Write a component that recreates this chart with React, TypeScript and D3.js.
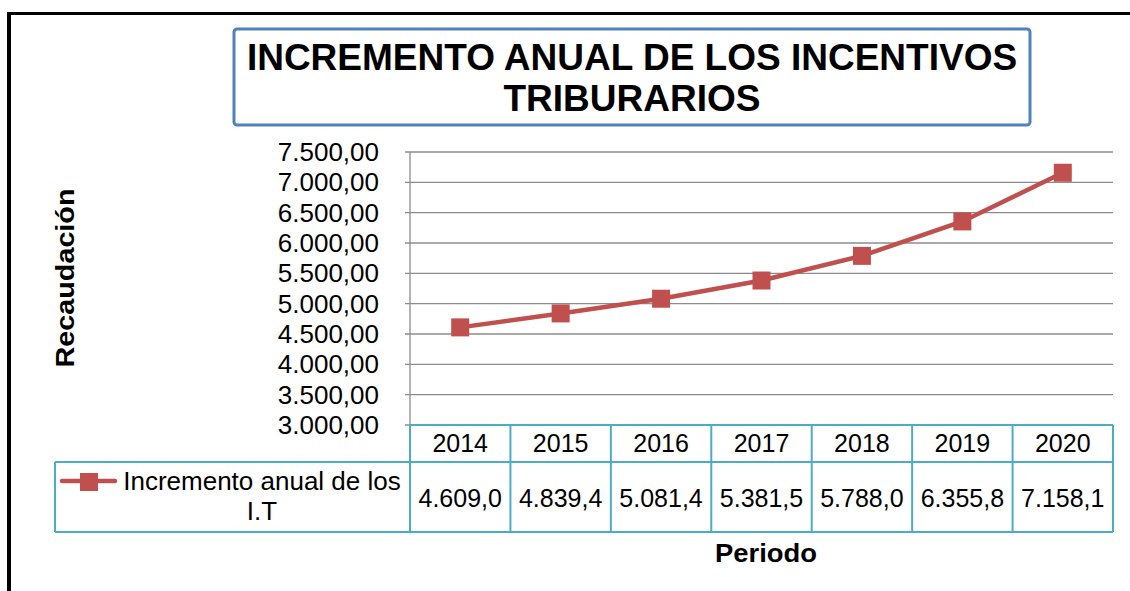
import React from "react";
import * as d3 from "d3";

const years = ["2014", "2015", "2016", "2017", "2018", "2019", "2020"];
const values = [4609.0, 4839.4, 5081.4, 5381.5, 5788.0, 6355.8, 7158.1];
const valueLabels = ["4.609,0", "4.839,4", "5.081,4", "5.381,5", "5.788,0", "6.355,8", "7.158,1"];
const yTicks = [3000, 3500, 4000, 4500, 5000, 5500, 6000, 6500, 7000, 7500];
const seriesName = ["Incremento anual de los", "I.T"];
const titleLines = ["INCREMENTO ANUAL DE LOS INCENTIVOS", "TRIBURARIOS"];

const W = 1130, H = 591;
const plotL = 410, plotR = 1113, plotT = 152, plotB = 425;
const rowHeadB = 462, rowDataB = 532;
const legendL = 55;
const font = "Arial, 'Liberation Sans', sans-serif";
const red = "#C0504D";
const teal = "#4BACC6";

export default function App() {
  const x = d3.scaleBand<string>().domain(years).range([plotL, plotR]);
  const y = d3.scaleLinear().domain([3000, 7500]).range([plotB, plotT]);
  const fmt = (v: number) => d3.format(",.2f")(v).replace(/,/g, "#").replace(/\./g, ",").replace(/#/g, ".");
  const line = d3.line<number>()
    .x((_, i) => (x(years[i]) as number) + x.bandwidth() / 2)
    .y((d) => y(d));
  const ms = 18;
  return (
    <svg width={W} height={H} style={{ position: "absolute", left: 0, top: 0, background: "#fff" }} fontFamily={font}>
      <rect x={0} y={0} width={W} height={H} fill="#fff" />
      {/* outer border */}
      <line x1={9} y1={12} x2={9} y2={H} stroke="#000" strokeWidth={4} />
      <line x1={7} y1={13.5} x2={W} y2={13.5} stroke="#000" strokeWidth={3} />
      {/* title */}
      <rect x={234} y={29} width={796} height={96} rx={3} fill="#fff" stroke="#4F81BD" strokeWidth={3} />
      {titleLines.map((t, i) => (
        <text key={i} x={632} y={70 + i * 41} textAnchor="middle" fontSize={37} fontWeight="bold" fill="#000">{t}</text>
      ))}
      {/* gridlines */}
      {yTicks.map((t) => (
        <g key={t}>
          <line x1={plotL - 5} x2={plotR} y1={y(t)} y2={y(t)} stroke="#8C8C8C" strokeWidth={1.3} />
          <text x={379} y={y(t) + 9} textAnchor="end" fontSize={26} fill="#000">{fmt(t)}</text>
        </g>
      ))}
      <line x1={plotL} x2={plotL} y1={plotT} y2={plotB} stroke="#8C8C8C" strokeWidth={1.3} />
      {/* series */}
      <path d={line(values) || ""} fill="none" stroke={red} strokeWidth={4.5} />
      {values.map((v, i) => (
        <rect key={i} x={(x(years[i]) as number) + x.bandwidth() / 2 - ms / 2} y={y(v) - ms / 2} width={ms} height={ms} fill={red} />
      ))}
      {/* data table */}
      <g stroke={teal} strokeWidth={2} fill="none">
        <line x1={plotL} x2={plotR} y1={plotB} y2={plotB} />
        <line x1={legendL} x2={plotR} y1={rowHeadB} y2={rowHeadB} />
        <line x1={legendL} x2={plotR} y1={rowDataB} y2={rowDataB} />
        <line x1={legendL} x2={legendL} y1={rowHeadB} y2={rowDataB} />
        {years.map((yr) => (
          <line key={yr} x1={x(yr) as number} x2={x(yr) as number} y1={plotB} y2={rowDataB} />
        ))}
        <line x1={plotR} x2={plotR} y1={plotB} y2={rowDataB} />
      </g>
      {years.map((yr, i) => (
        <g key={yr}>
          <text x={(x(yr) as number) + x.bandwidth() / 2} y={452} textAnchor="middle" fontSize={25} fill="#000">{yr}</text>
          <text x={(x(yr) as number) + x.bandwidth() / 2} y={507} textAnchor="middle" fontSize={25} fill="#000">{valueLabels[i]}</text>
        </g>
      ))}
      {/* legend */}
      <line x1={62} x2={115} y1={481} y2={481} stroke={red} strokeWidth={4.5} strokeLinecap="round" />
      <rect x={80} y={473} width={18} height={18} fill={red} />
      <text x={262} y={490} textAnchor="middle" fontSize={26} fill="#000">{seriesName[0]}</text>
      <text x={262} y={520} textAnchor="middle" fontSize={26} fill="#000">{seriesName[1]}</text>
      {/* axis titles */}
      <text x={766} y={562} textAnchor="middle" fontSize={26} fontWeight="bold" fill="#000" textLength={102} lengthAdjust="spacingAndGlyphs">Periodo</text>
      <text transform="translate(74,278) rotate(-90)" textAnchor="middle" fontSize={26} fontWeight="bold" fill="#000" textLength={179} lengthAdjust="spacingAndGlyphs">Recaudación</text>
    </svg>
  );
}
